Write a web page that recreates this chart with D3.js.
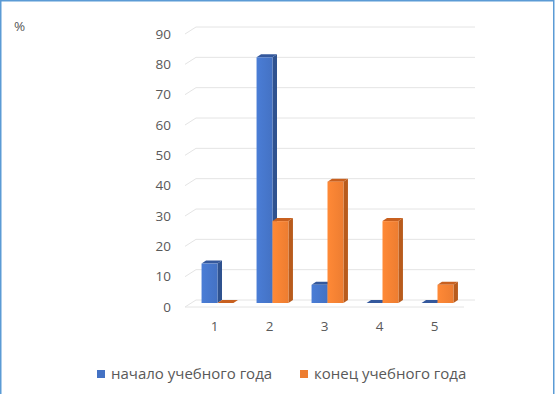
<!DOCTYPE html>
<html>
<head>
<meta charset="utf-8">
<script src="https://cdn.jsdelivr.net/npm/d3@7"></script>
<style>
  body { margin: 0; background: #fff; }
  svg text { font-family: "Open Sans", "Noto Sans", sans-serif; fill: #595959; }
</style>
</head>
<body>
<svg id="chart" width="555" height="394"></svg>
<script>
// data
const categories = ["1", "2", "3", "4", "5"]
const seriesNames = ["начало учебного года", "конец учебного года"]
const startYear = [13, 81, 6, 0, 0]
const endYear = [0, 27, 40, 27, 6]
const yTicks = [0, 10, 20, 30, 40, 50, 60, 70, 80, 90]

const colors = {
    front: ["#4472c4", "#ed7d31"],
    side: ["#2f528f", "#b85b1c"],
    top: ["#34589c", "#c8601f"]
}

let svg = d3.select("#chart")

// frame around the whole picture
svg.append("rect")
    .attr("x", 0.75).attr("y", 0.75)
    .attr("width", 553).attr("height", 400)
    .attr("fill", "none")
    .attr("stroke", "#5b9bd5")
    .attr("stroke-width", 1.5)

// perspective offsets of the back wall
let wallDx = 11, wallDy = -7
let barDx = 4.5, barDy = -3

let y = d3.scaleLinear().domain([0, 90]).range([307, 34])   // front edge of the walls
let barBase = 303

let x0 = d3.scaleBand().domain(categories).range([190, 465]).paddingInner(0.42).paddingOuter(0.21)
let x1 = d3.scaleBand().domain([0, 1]).range([0, x0.bandwidth()])

// gridlines: short slanted piece + line on the back wall
let grid = svg.append("g").attr("class", "grid")
yTicks.forEach(t => {
    let yy = y(t)
    grid.append("path")
        .attr("d", `M185,${yy}L${185 + wallDx},${yy + wallDy}L475,${yy + wallDy}`)
        .attr("fill", "none")
        .attr("stroke", "#e4e4e4")
        .attr("stroke-width", 1)
})
// floor front edge
grid.append("line")
    .attr("x1", 185).attr("x2", 464)
    .attr("y1", y(0)).attr("y2", y(0))
    .attr("stroke", "#e4e4e4")

// y labels
svg.append("g").selectAll("text")
    .data(yTicks)
    .join("text")
    .attr("x", 171)
    .attr("y", d => y(d))
    .attr("dy", "0.35em")
    .attr("text-anchor", "end")
    .attr("font-size", "13.5px")
    .text(d => d)

// x labels
svg.append("g").selectAll("text")
    .data(categories)
    .join("text")
    .attr("x", d => x0(d) + x0.bandwidth() / 2 - 3)
    .attr("y", 331)
    .attr("text-anchor", "middle")
    .attr("font-size", "13.5px")
    .text(d => d)

svg.append("text")
    .attr("x", 14).attr("y", 31)
    .attr("font-size", "13.5px")
    .text("%")

// gradient for the front faces
let defs = svg.append("defs")
colors.front.forEach((c, i) => {
    let g = defs.append("linearGradient").attr("id", "grad" + i)
        .attr("x1", "0").attr("x2", "1").attr("y1", "0").attr("y2", "0")
    g.append("stop").attr("offset", "0%").attr("stop-color", d3.color(c).brighter(0.25))
    g.append("stop").attr("offset", "100%").attr("stop-color", c)
})

let bars = []
categories.forEach((c, i) => {
    bars.push({cat: c, s: 0, v: startYear[i]})
    bars.push({cat: c, s: 1, v: endYear[i]})
})

let barH = d => (y(0) - y(d.v))

let bg = svg.append("g").selectAll("g")
    .data(bars)
    .join("g")
    .attr("transform", d => `translate(${x0(d.cat) + x1(d.s)},0)`)

let bw = x1.bandwidth()
// side face
bg.append("path")
    .attr("d", d => {
        let top = barBase - barH(d)
        return `M${bw},${top}L${bw + barDx},${top + barDy}L${bw + barDx},${barBase + barDy}L${bw},${barBase}Z`
    })
    .attr("fill", d => colors.side[d.s])
// top face
bg.append("path")
    .attr("d", d => {
        let top = barBase - barH(d)
        return `M0,${top}L${barDx},${top + barDy}L${bw + barDx},${top + barDy}L${bw},${top}Z`
    })
    .attr("fill", d => colors.top[d.s])
// front face
bg.append("rect")
    .attr("x", 0)
    .attr("y", d => barBase - barH(d))
    .attr("width", bw)
    .attr("height", d => barH(d))
    .attr("fill", d => "url(#grad" + d.s + ")")

// legend
let legendX = [97, 300]
let legend = svg.append("g").selectAll("g")
    .data(seriesNames)
    .join("g")
    .attr("transform", (d, i) => `translate(${legendX[i]},370)`)
legend.append("rect")
    .attr("width", 8).attr("height", 8)
    .attr("fill", (d, i) => colors.front[i])
legend.append("text")
    .attr("x", 14).attr("y", 4)
    .attr("dy", "0.35em")
    .attr("font-size", "15px")
    .text(d => d)
</script>
</body>
</html>
